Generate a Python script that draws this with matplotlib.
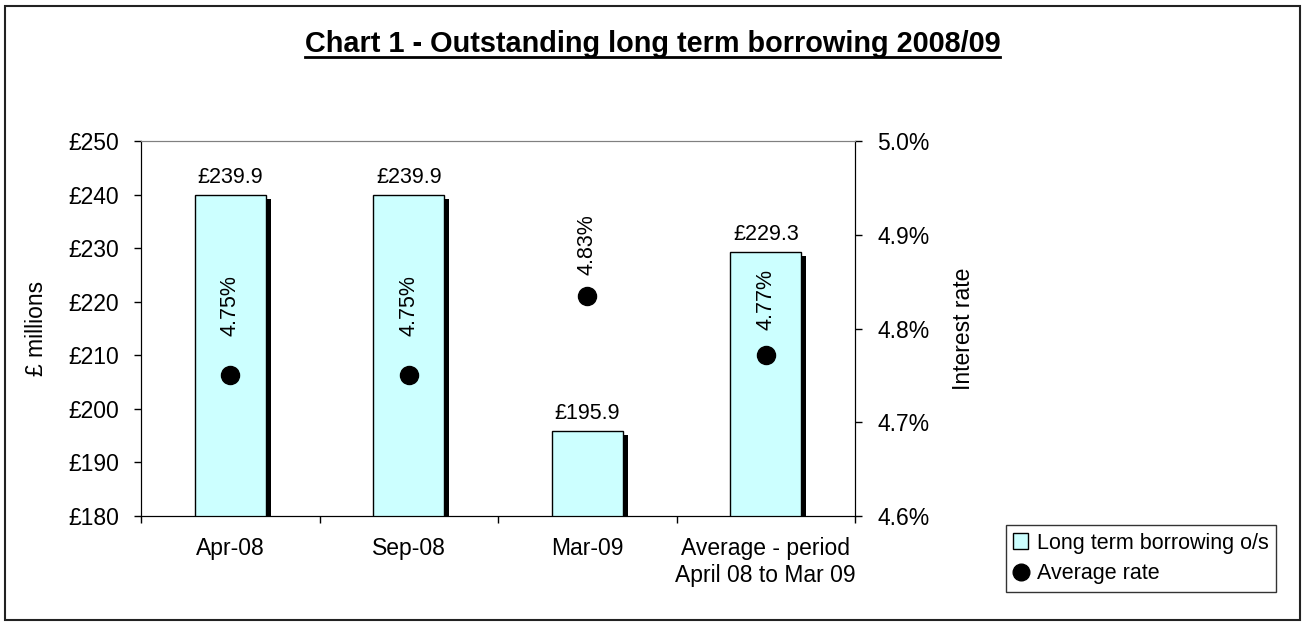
import matplotlib
matplotlib.use("Agg")
import matplotlib.pyplot as plt
import matplotlib.patheffects as pe
from matplotlib.lines import Line2D
from matplotlib.patches import Patch, Rectangle

plt.rcParams['font.family'] = ['Liberation Sans', 'DejaVu Sans']

# ---------- DATA ----------
categories = ["Apr-08", "Sep-08", "Mar-09", "Average - period\nApril 08 to Mar 09"]
borrowing = [239.9, 239.9, 195.9, 229.3]          # £ millions
rates = [4.75, 4.75, 4.835, 4.772]                # %
rate_labels = ["4.75%", "4.75%", "4.83%", "4.77%"]
left_ticks = [180, 190, 200, 210, 220, 230, 240, 250]
right_ticks = [4.6, 4.7, 4.8, 4.9, 5.0]

BAR_COLOR = "#CCFFFF"
W, H = 1305, 626
# gap (points) between each rate dot and its rotated label, as placed in the original
RATE_LABEL_GAP = [28, 28, 15, 18]

fig = plt.figure(figsize=(W / 100, H / 100), dpi=100)
ax = fig.add_axes([141 / W, 1 - 516 / H, 714 / W, 375 / H])
ax2 = ax.twinx()

x = list(range(len(categories)))

# bars with a hard black drop shadow (Excel style)
bars = ax.bar(x, borrowing, width=0.40, color=BAR_COLOR, edgecolor="black",
              linewidth=1.0, zorder=2)
for b in bars:
    b.set_path_effects([pe.SimplePatchShadow(offset=(3.6, -2.8), shadow_rgbFace="black", alpha=1.0),
                        pe.Normal()])

for xi, v in zip(x, borrowing):
    ax.annotate(f"£{v:.1f}", (xi, v), xytext=(0, 5), textcoords="offset points",
                ha="center", va="bottom", fontsize=15.5)

ax.set_xlim(-0.5, len(categories) - 0.5)
ax.set_ylim(180, 250)
ax.set_yticks(left_ticks)
ax.set_yticklabels([f"£{t}" for t in left_ticks])
ax.set_xticks(x)
ax.set_xticklabels(categories, fontsize=16.5, linespacing=1.25)
ax.set_xticks([i + 0.5 for i in range(-1, len(categories))], minor=True)
ax.tick_params(axis="x", which="major", length=0, pad=15)
ax.tick_params(axis="x", which="minor", length=5, width=1, direction="out")
ax.tick_params(axis="y", length=5, width=1, direction="out", labelsize=16.5, pad=11)
ax.set_ylabel("£ millions", fontsize=16.5, labelpad=14)

# secondary axis: interest rate
ax2.plot(x, rates, linestyle="none", marker="o", markersize=13, color="black", zorder=3)
for xi, r, lab, gap in zip(x, rates, rate_labels, RATE_LABEL_GAP):
    ax2.annotate(lab, (xi, r), xytext=(0, gap), textcoords="offset points",
                 ha="center", va="bottom", rotation=90, fontsize=15.5)
ax2.set_ylim(4.6, 5.0)
ax2.set_yticks(right_ticks)
ax2.set_yticklabels([f"{t:.1f}%" for t in right_ticks])
ax2.tick_params(axis="y", length=5, width=1, direction="out", labelsize=16.5, pad=11)
ax2.set_ylabel("Interest rate", fontsize=16.5, labelpad=16)

for a in (ax, ax2):
    a.spines["top"].set_color("#808080")
    a.spines["left"].set_color("black")
    a.spines["right"].set_color("black")
    a.spines["bottom"].set_color("black")

# legend
handles = [Patch(facecolor=BAR_COLOR, edgecolor="black", linewidth=1.0, label="Long term borrowing o/s"),
           Line2D([], [], linestyle="none", marker="o", markersize=12, color="black", label="Average rate")]
leg = fig.legend(handles=handles, loc="upper right", bbox_to_anchor=(1276 / W, 1 - 525 / H),
                 fontsize=15.5, frameon=True, fancybox=False, handlelength=0.7, handleheight=0.7,
                 handletextpad=0.4, borderpad=0.35, labelspacing=0.45, borderaxespad=0)
leg.get_frame().set_edgecolor("black")
leg.get_frame().set_linewidth(1.0)

# title with underline
title = fig.text(0.5, 1 - 44 / H, "Chart 1 - Outstanding long term borrowing 2008/09",
                 ha="center", va="center", fontsize=20.8, fontweight="bold")
fig.canvas.draw()
bb = title.get_window_extent(fig.canvas.get_renderer())
fig.add_artist(Line2D([bb.x0 / W, bb.x1 / W], [(bb.y0 + 1) / H, (bb.y0 + 1) / H],
                      transform=fig.transFigure, color="black", linewidth=2))

# outer chart border
fig.add_artist(Rectangle((5 / W, 6 / H), (W - 10) / W, (H - 12) / H, transform=fig.transFigure,
                         fill=False, edgecolor="#222222", linewidth=1.5))

fig.savefig("out.png", dpi=100)
